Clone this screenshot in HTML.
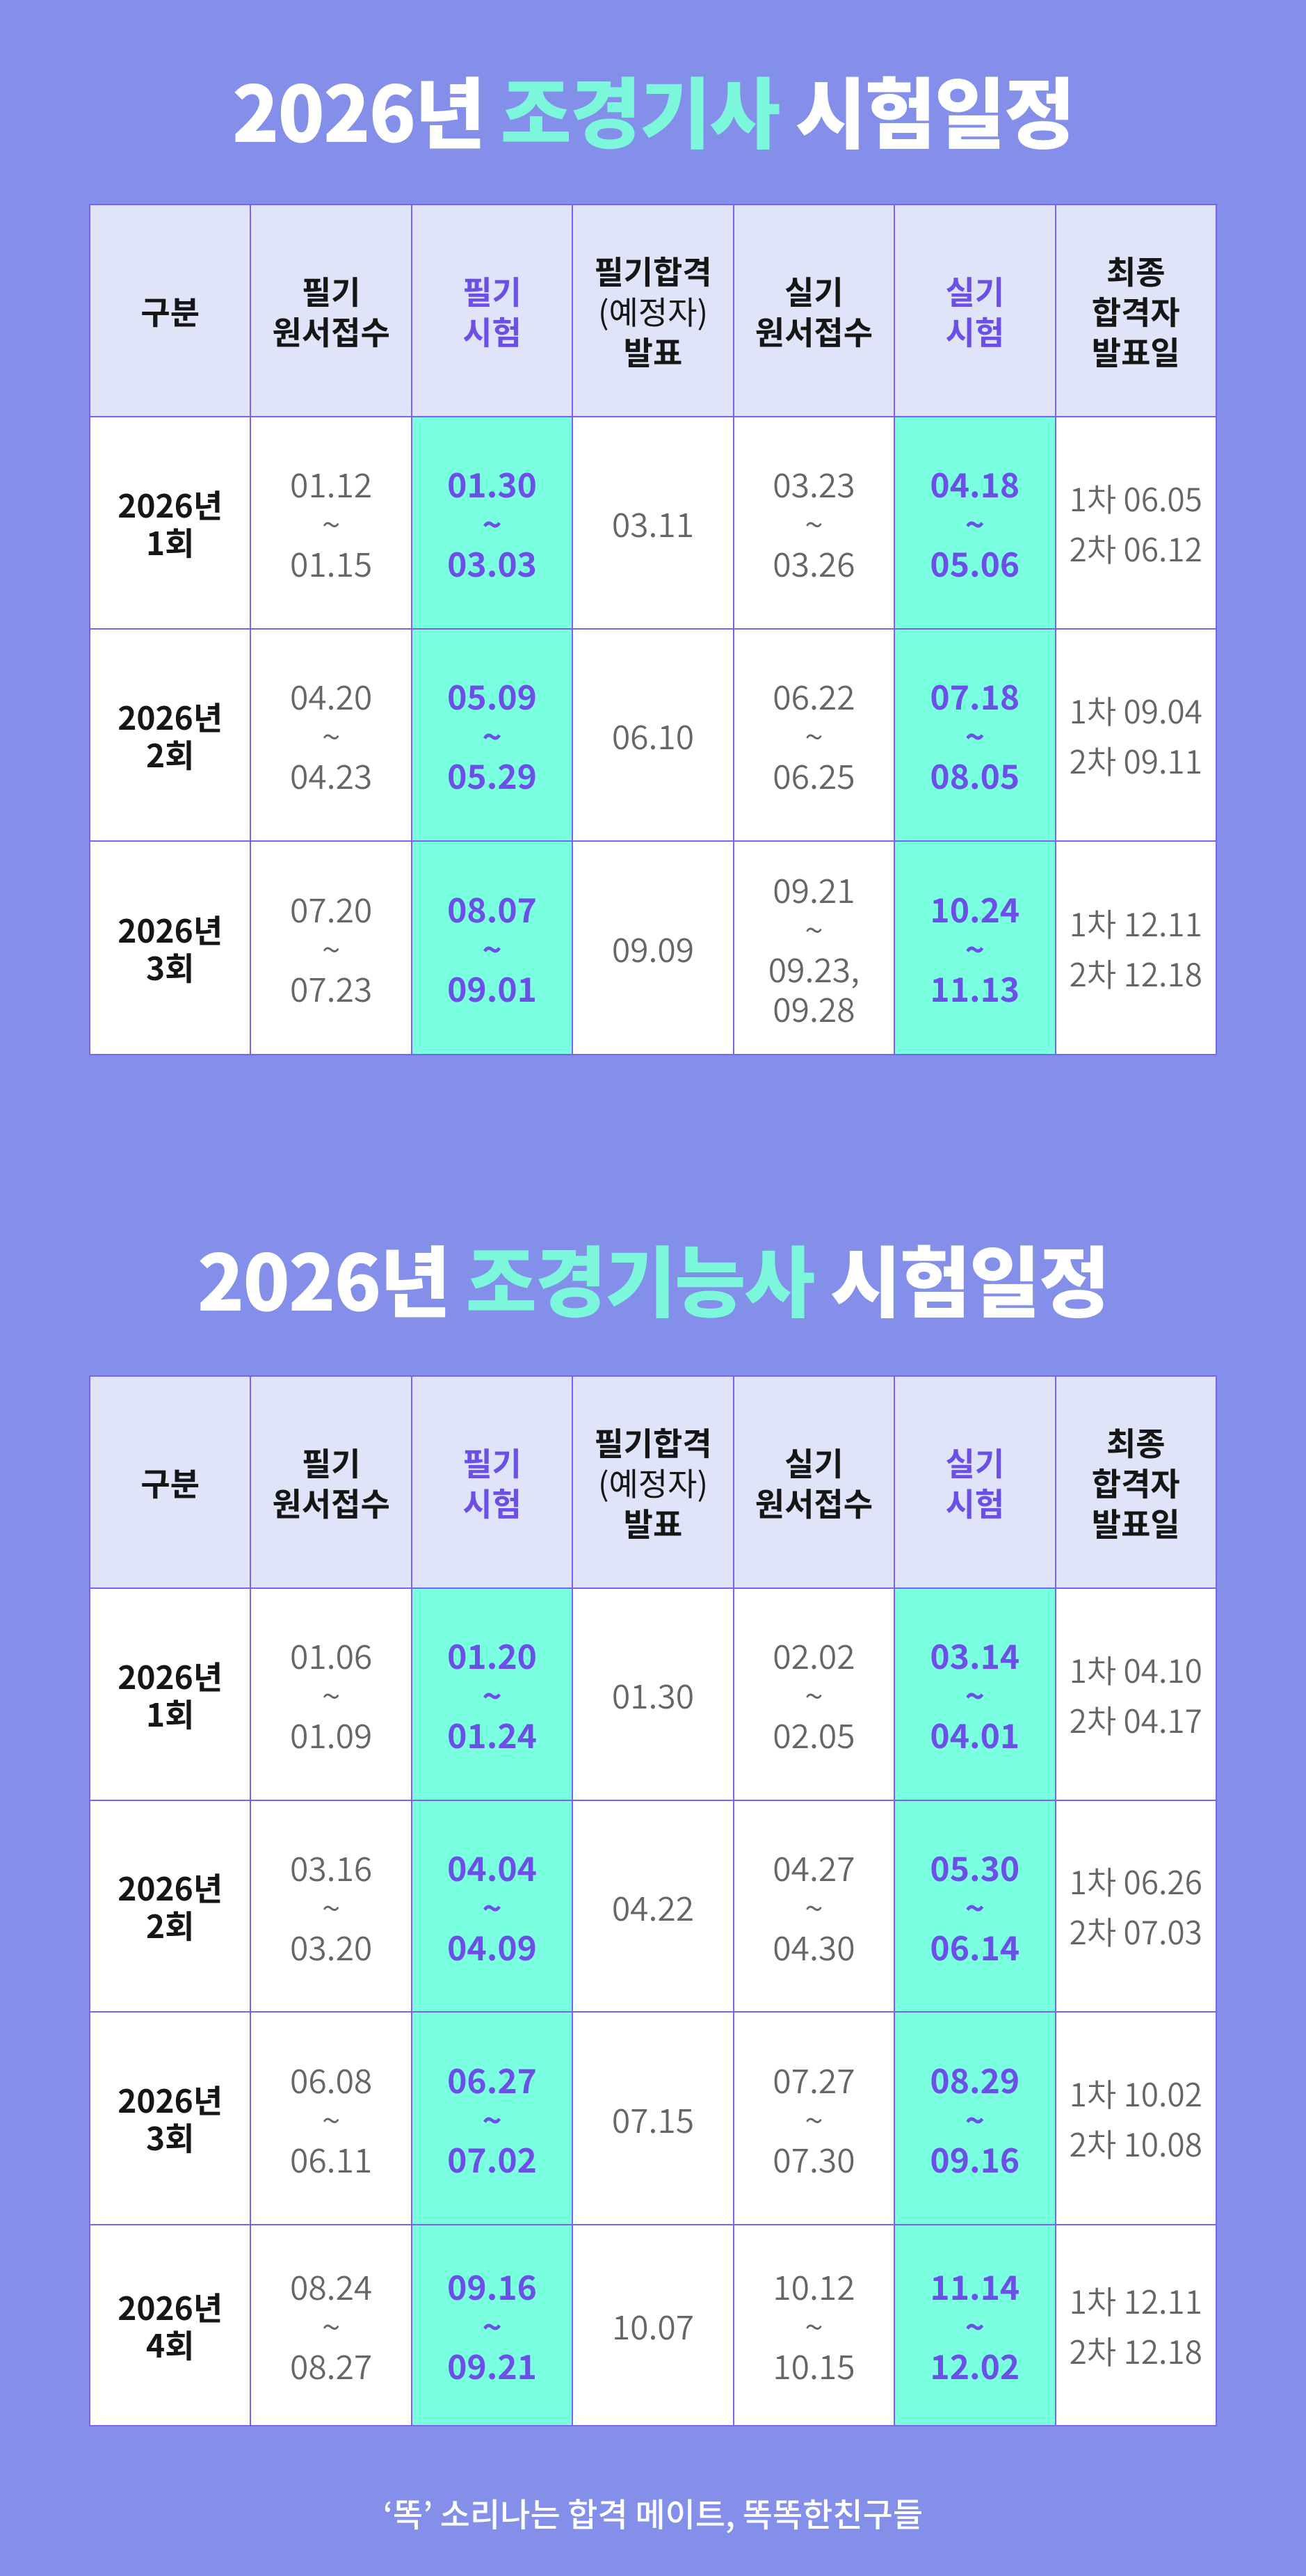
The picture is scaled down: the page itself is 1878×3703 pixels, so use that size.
<!DOCTYPE html>
<html><head><meta charset="utf-8"><style>
*{margin:0;padding:0;box-sizing:border-box}
body{width:1878px;height:3703px;background:#838fe8;font-family:"Liberation Sans","Noto Sans CJK KR",sans-serif;position:relative;overflow:hidden}
.title{position:absolute;left:0;width:1878px;text-align:center;font-family:"Noto Sans CJK KR",sans-serif;font-weight:900;font-size:111px;color:#fff;letter-spacing:-2px;line-height:1}
.title span{color:#7cf7dc}
table{position:absolute;left:128px;border-collapse:collapse;table-layout:fixed;width:1622px}
td{border:2px solid #7d62f0;text-align:center;vertical-align:middle;font-family:"Noto Sans CJK KR",sans-serif;background:#fff;color:#666;font-size:48px;line-height:57px;font-weight:350}
tr.h td{background:#e0e4f8;color:#161616;font-weight:700;font-size:46px;line-height:58px}
tr.h td.p{color:#6b4fe6}
td.m{background:#7affe0;color:#6b4fe6;font-weight:700}
td.l{color:#161616;font-weight:700;font-size:46px;line-height:54px}
td.f{font-size:46px;line-height:72px}
.r{font-weight:400}
.foot{position:absolute;left:0;width:1878px;top:3584px;text-align:center;color:#fff;font-family:"Noto Sans CJK KR",sans-serif;font-weight:500;font-size:47px;line-height:56px}
</style></head><body>
<div class="title" style="top:100px">2026년 <span>조경기사</span> 시험일정</div>
<table style="top:293px">
<colgroup><col><col><col><col><col><col><col></colgroup>
<tr class="h" style="height:305px"><td>구분</td><td>필기<br>원서접수</td><td class="p">필기<br>시험</td><td>필기합격<br><span class="r">(예정자)</span><br>발표</td><td>실기<br>원서접수</td><td class="p">실기<br>시험</td><td>최종<br>합격자<br>발표일</td></tr>
<tr style="height:305px"><td class="l">2026년<br>1회</td><td>01.12<br>~<br>01.15</td><td class="m">01.30<br>~<br>03.03</td><td>03.11</td><td>03.23<br>~<br>03.26</td><td class="m">04.18<br>~<br>05.06</td><td class="f">1차 06.05<br>2차 06.12</td></tr>
<tr style="height:305px"><td class="l">2026년<br>2회</td><td>04.20<br>~<br>04.23</td><td class="m">05.09<br>~<br>05.29</td><td>06.10</td><td>06.22<br>~<br>06.25</td><td class="m">07.18<br>~<br>08.05</td><td class="f">1차 09.04<br>2차 09.11</td></tr>
<tr style="height:307px"><td class="l">2026년<br>3회</td><td>07.20<br>~<br>07.23</td><td class="m">08.07<br>~<br>09.01</td><td>09.09</td><td>09.21<br>~<br>09.23,<br>09.28</td><td class="m">10.24<br>~<br>11.13</td><td class="f">1차 12.11<br>2차 12.18</td></tr>
</table>
<div class="title" style="top:1780px">2026년 <span>조경기능사</span> 시험일정</div>
<table style="top:1977px">
<colgroup><col><col><col><col><col><col><col></colgroup>
<tr class="h" style="height:305px"><td>구분</td><td>필기<br>원서접수</td><td class="p">필기<br>시험</td><td>필기합격<br><span class="r">(예정자)</span><br>발표</td><td>실기<br>원서접수</td><td class="p">실기<br>시험</td><td>최종<br>합격자<br>발표일</td></tr>
<tr style="height:305px"><td class="l">2026년<br>1회</td><td>01.06<br>~<br>01.09</td><td class="m">01.20<br>~<br>01.24</td><td>01.30</td><td>02.02<br>~<br>02.05</td><td class="m">03.14<br>~<br>04.01</td><td class="f">1차 04.10<br>2차 04.17</td></tr>
<tr style="height:304px"><td class="l">2026년<br>2회</td><td>03.16<br>~<br>03.20</td><td class="m">04.04<br>~<br>04.09</td><td>04.22</td><td>04.27<br>~<br>04.30</td><td class="m">05.30<br>~<br>06.14</td><td class="f">1차 06.26<br>2차 07.03</td></tr>
<tr style="height:306px"><td class="l">2026년<br>3회</td><td>06.08<br>~<br>06.11</td><td class="m">06.27<br>~<br>07.02</td><td>07.15</td><td>07.27<br>~<br>07.30</td><td class="m">08.29<br>~<br>09.16</td><td class="f">1차 10.02<br>2차 10.08</td></tr>
<tr style="height:289px"><td class="l">2026년<br>4회</td><td>08.24<br>~<br>08.27</td><td class="m">09.16<br>~<br>09.21</td><td>10.07</td><td>10.12<br>~<br>10.15</td><td class="m">11.14<br>~<br>12.02</td><td class="f">1차 12.11<br>2차 12.18</td></tr>
</table>
<div class="foot">‘똑’ 소리나는 합격 메이트, 똑똑한친구들</div>
</body></html>
